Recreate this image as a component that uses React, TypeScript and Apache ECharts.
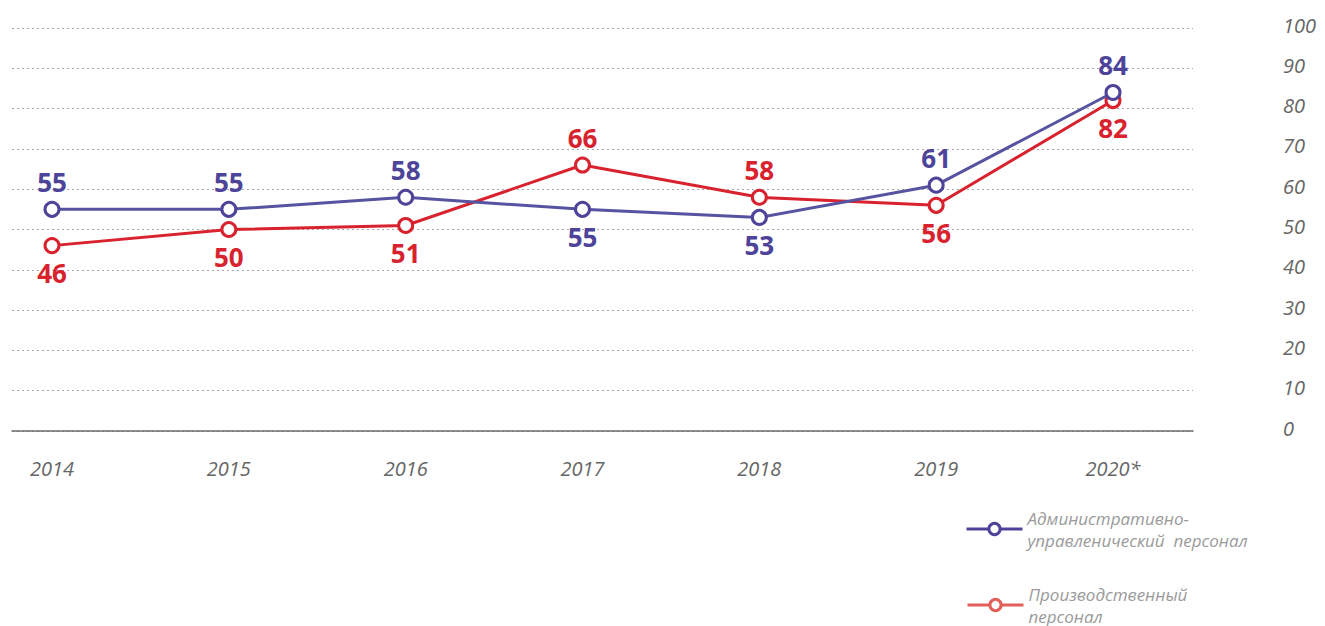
import React, { useEffect, useRef } from "react";
import * as echarts from "echarts";

const years = ["2014", "2015", "2016", "2017", "2018", "2019", "2020*"];
const adminValues = [55, 55, 58, 55, 53, 61, 84];
const prodValues = [46, 50, 51, 66, 58, 56, 82];
const yTicks = [0, 10, 20, 30, 40, 50, 60, 70, 80, 90, 100];
const adminName = "Административно-\nуправленический  персонал";
const prodName = "Производственный\nперсонал";

const BLUE = "#4d4499";
const BLUE_LINE = "#5653a0";
const RED = "#d8222e";
const RED_LEGEND = "#e2605a";

export default function App() {
  const ref = useRef<HTMLDivElement>(null);
  useEffect(() => {
    if (!ref.current) return;
    const chart = echarts.init(ref.current, null, { renderer: "svg" });
    const mk = (vals: number[], other: number[]) =>
      vals.map((v, i) => ({
        value: v,
        label: { position: v >= other[i] ? "top" : "bottom" },
      }));
    const labelBase = (color: string) => ({
      show: true,
      color,
      fontSize: 26,
      fontWeight: "bold",
      fontFamily: "Open Sans",
      distance: 6,
    });
    const legendText = {
      color: "#9a9a9a",
      fontSize: 17,
      fontStyle: "italic",
      fontFamily: "Open Sans",
      lineHeight: 22,
    };
    chart.setOption({
      animation: false,
      grid: [
        { left: 12, right: 132, top: 28, bottom: 195 },
        { left: 52, right: 212, top: 28, bottom: 195 },
      ],
      legend: [
        {
          left: 960,
          top: 502,
          itemWidth: 56,
          itemHeight: 14,
          itemGap: 0,
          textStyle: legendText,
          data: [
            {
              name: adminName,
              itemStyle: { borderColor: BLUE, color: "#fff", borderWidth: 3 },
              lineStyle: { color: BLUE, width: 3 },
            },
          ],
        },
        {
          left: 961,
          top: 578,
          itemWidth: 56,
          itemHeight: 14,
          itemGap: 0,
          textStyle: legendText,
          data: [
            {
              name: prodName,
              itemStyle: { borderColor: RED_LEGEND, color: "#fff", borderWidth: 3 },
              lineStyle: { color: RED_LEGEND, width: 3 },
            },
          ],
        },
      ],
      xAxis: [
        {
          type: "category",
          gridIndex: 0,
          data: years,
          axisLine: { show: true, lineStyle: { color: "#6b6b6b", width: 1.5 } },
          axisTick: { show: false },
          axisLabel: { show: false },
          splitLine: { show: false },
        },
        {
          type: "category",
          gridIndex: 1,
          data: years,
          boundaryGap: false,
          axisLine: { show: false },
          axisTick: { show: false },
          axisLabel: {
            color: "#666",
            fontSize: 20,
            fontStyle: "italic",
            fontFamily: "Open Sans",
            margin: 27,
          },
          splitLine: { show: false },
        },
      ],
      yAxis: [
        {
          type: "value",
          gridIndex: 0,
          position: "right",
          min: yTicks[0],
          max: yTicks[yTicks.length - 1],
          interval: 10,
          axisLine: { show: false },
          axisTick: { show: false },
          axisLabel: {
            color: "#666",
            fontSize: 20,
            fontStyle: "italic",
            fontFamily: "Open Sans",
            align: "left",
            margin: 90,
            verticalAlign: "bottom",
            padding: [0, 0, -7, 0],
          },
          splitLine: {
            show: true,
            lineStyle: { color: "#a8a8a8", type: [2, 3], width: 1 },
          },
        },
        {
          type: "value",
          gridIndex: 1,
          min: yTicks[0],
          max: yTicks[yTicks.length - 1],
          interval: 10,
          show: false,
          splitLine: { show: false },
        },
      ],
      series: [
        {
          name: adminName,
          type: "line",
          xAxisIndex: 1,
          yAxisIndex: 1,
          data: mk(adminValues, prodValues),
          symbol: "circle",
          symbolSize: 14,
          lineStyle: { color: BLUE_LINE, width: 3 },
          itemStyle: { color: "#fff", borderColor: BLUE, borderWidth: 3 },
          label: labelBase(BLUE),
          z: 3,
        },
        {
          name: prodName,
          type: "line",
          xAxisIndex: 1,
          yAxisIndex: 1,
          data: mk(prodValues, adminValues),
          symbol: "circle",
          symbolSize: 14,
          lineStyle: { color: RED, width: 3 },
          itemStyle: { color: "#fff", borderColor: RED, borderWidth: 3 },
          label: labelBase(RED),
          z: 2,
        },
      ],
    });
    return () => chart.dispose();
  }, []);
  return (
    <div
      ref={ref}
      style={{ position: "fixed", left: 0, top: 0, width: 1325, height: 626, background: "#fff" }}
    />
  );
}
